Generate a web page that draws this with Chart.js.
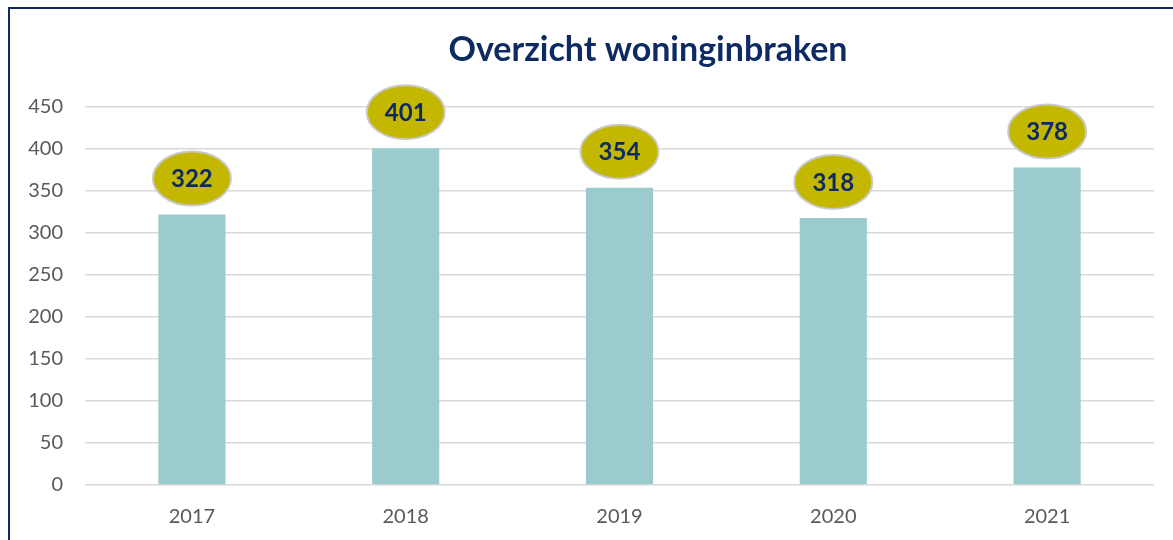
<!DOCTYPE html>
<html>
<head>
<meta charset="utf-8">
<script src="https://cdn.jsdelivr.net/npm/chart.js@4/dist/chart.umd.min.js"></script>
<style>
html,body{margin:0;padding:0;background:#fff;}
#wrap{position:relative;width:1173px;height:540px;overflow:hidden;}
#frame{position:absolute;left:8px;top:7px;width:1200px;height:600px;border-left:2px solid #0E2A63;border-top:2px solid #0E2A63;}
canvas{position:absolute;left:0;top:0;}
</style>
</head>
<body>
<div id="wrap">
<div id="frame"></div>
<canvas id="c" width="1173" height="540"></canvas>
</div>
<script>
const titleText = "Overzicht woninginbraken";
const years = ["2017", "2018", "2019", "2020", "2021"];
const burglaries = [322, 401, 354, 318, 378];
const yTicks = [0, 50, 100, 150, 200, 250, 300, 350, 400, 450];

const FONT = "Lato, 'Open Sans', sans-serif";

const ellipsePlugin = {
  id: 'ellipses',
  afterDatasetsDraw(chart) {
    const ctx = chart.ctx;
    const meta = chart.getDatasetMeta(0);
    ctx.save();
    meta.data.forEach((bar, i) => {
      const cx = bar.x;
      const cy = bar.y - 36;
      ctx.beginPath();
      ctx.ellipse(cx, cy, 39, 27, 0, 0, Math.PI * 2);
      ctx.fillStyle = '#C4B700';
      ctx.fill();
      ctx.lineWidth = 2;
      ctx.strokeStyle = '#C9C9C9';
      ctx.stroke();
      ctx.fillStyle = '#0E2A63';
      ctx.font = "bold 24px " + FONT;
      ctx.textAlign = 'center';
      ctx.textBaseline = 'middle';
      ctx.fillText(String(burglaries[i]), cx, cy + 1);
    });
    ctx.restore();
  }
};

const titlePlugin = {
  id: 'ctitle',
  afterDraw(chart) {
    const ctx = chart.ctx;
    ctx.save();
    ctx.fillStyle = '#0E2A63';
    ctx.font = "bold 34px " + FONT;
    ctx.textAlign = 'center';
    ctx.textBaseline = 'middle';
    ctx.fillText(titleText, 648, 50);
    ctx.restore();
  }
};

new Chart(document.getElementById('c'), {
  type: 'bar',
  data: {
    labels: years,
    datasets: [{
      data: burglaries,
      backgroundColor: '#9BCBCC',
      barPercentage: 0.314,
      categoryPercentage: 1.0
    }]
  },
  options: {
    responsive: false,
    animation: false,
    devicePixelRatio: 1,
    layout: { padding: { left: 10, right: 19, top: 107, bottom: 0 } },
    plugins: { legend: { display: false }, tooltip: { enabled: false }, title: { display: false } },
    scales: {
      x: {
        afterFit(scale) { scale.height = 55; },
        grid: { display: false, drawTicks: false },
        border: { display: false },
        ticks: { color: '#595959', font: { family: FONT, size: 20 }, padding: 20 }
      },
      y: {
        min: 0, max: 450,
        afterFit(scale) { scale.width = 75; },
        afterBuildTicks(scale) { scale.ticks = yTicks.map(v => ({ value: v })); },
        grid: { color: '#D9D9D9', lineWidth: 1.5, drawTicks: false },
        border: { display: false },
        ticks: { color: '#595959', font: { family: FONT, size: 20 }, padding: 22 }
      }
    }
  },
  plugins: [ellipsePlugin, titlePlugin]
});
</script>
</body>
</html>
